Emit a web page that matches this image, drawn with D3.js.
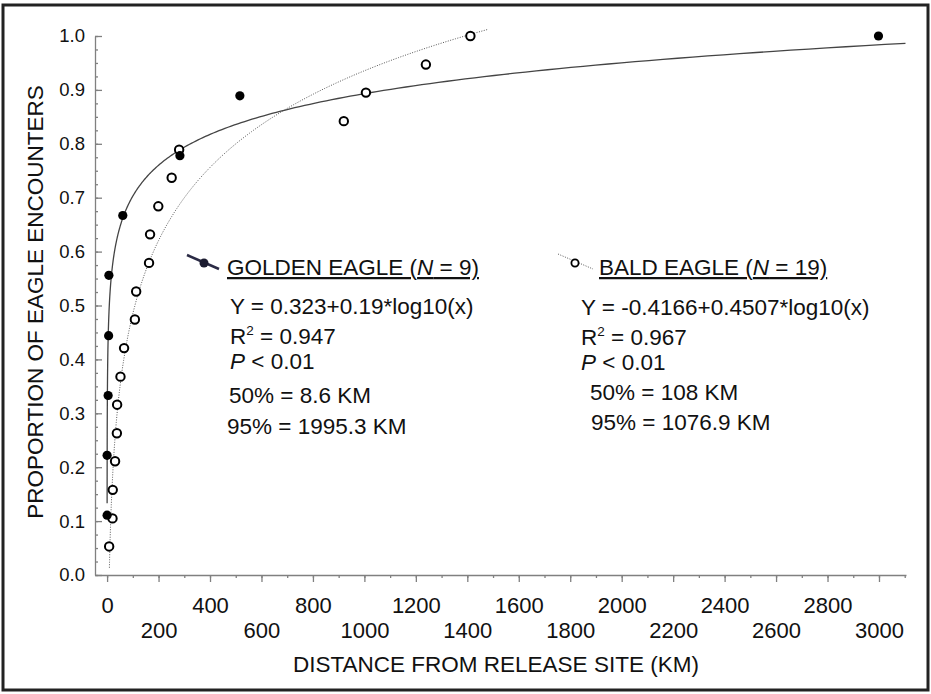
<!DOCTYPE html>
<html>
<head>
<meta charset="utf-8">
<script src="https://cdn.jsdelivr.net/npm/d3@7"></script>
<style>
  body { margin: 0; background: #fff; }
  text { font-family: "Liberation Sans", Arial, sans-serif; fill: #111; }
</style>
</head>
<body>
<div class="svg-container"></div>
<script>
// golden eagle (filled dots), N = 9
var goldenDist = [0, 0, 4, 6, 7, 61, 283, 516, 2998];
var goldenProp = [0.111, 0.222, 0.333, 0.444, 0.556, 0.667, 0.778, 0.889, 1.0];
// bald eagle (open circles), N = 19
var baldDist = [8, 21, 22, 31, 38, 39, 52, 66, 108, 113, 163, 167, 199, 251, 280, 920, 1006, 1239, 1412];
var baldProp = [0.053, 0.105, 0.158, 0.211, 0.263, 0.316, 0.368, 0.421, 0.474, 0.526, 0.579, 0.632, 0.684, 0.737, 0.789, 0.842, 0.895, 0.947, 1.0];
// fit lines: Y = a + b*log10(x)
var goldenFit = {a: 0.323, b: 0.19, from: 0.1, to: 3103};
var baldFit = {a: -0.4166, b: 0.4507, from: 9, to: 1480};
var xTicks = d3.range(0, 3001, 200);
var xMinor = d3.range(0, 3101, 100);
var yTicks = d3.range(0, 11).map(function(d){ return d / 10; });
var yMinor = d3.range(0, 41).map(function(d){ return d / 40; });

var svg1 = d3.select("body").select(".svg-container").append("svg")
    .attr("width", 931)
    .attr("height", 694);

// frame
svg1.append("rect")
    .attr("x", 3).attr("y", 5).attr("width", 925).attr("height", 685)
    .attr("fill", "none").attr("stroke", "#222").attr("stroke-width", 3);

var x = d3.scaleLinear().domain([-47, 3105]).range([95, 906]);
var y = d3.scaleLinear().domain([0, 1]).range([575, 36]);

// x axis
var xAxis = svg1.append("g").attr("transform", "translate(0,575)")
    .call(d3.axisBottom(x).tickValues(xTicks).tickSizeInner(7).tickSizeOuter(0)
        .tickFormat(d3.format("d")));
svg1.append("g").attr("transform", "translate(0,575)")
    .call(d3.axisBottom(x).tickValues(xMinor).tickSize(3).tickFormat(""))
    .select(".domain").remove();
xAxis.selectAll(".tick text")
    .attr("dy", null)
    .attr("y", function(d, i){ return i % 2 == 0 ? 37.5 : 63; })
    .attr("font-size", "22px")
    .attr("font-family", "Liberation Sans, Arial, sans-serif")
    .attr("fill", "#111");

// y axis, ticks point inward
var yAxis = svg1.append("g").attr("transform", "translate(95,0)")
    .call(d3.axisLeft(y).tickValues(yTicks).tickSizeInner(-7).tickSizeOuter(0).tickPadding(10)
        .tickFormat(d3.format(".1f")));
svg1.append("g").attr("transform", "translate(95,0)")
    .call(d3.axisLeft(y).tickValues(yMinor).tickSize(-3).tickFormat(""))
    .select(".domain").remove();
yAxis.selectAll(".tick text")
    .attr("font-size", "18.5px")
    .attr("font-family", "Liberation Sans, Arial, sans-serif")
    .attr("fill", "#111");

svg1.selectAll(".domain, .tick line").attr("stroke", "#808080").attr("stroke-width", 1.3);

// axis titles
svg1.append("text")
    .attr("x", 293).attr("y", 672)
    .attr("font-size", "22.5px")
    .text("DISTANCE FROM RELEASE SITE (KM)");
svg1.append("text")
    .attr("transform", "translate(43,302) rotate(-90)")
    .attr("text-anchor", "middle").attr("font-size", "22.5px")
    .text("PROPORTION OF EAGLE ENCOUNTERS");

// fit curves
function fitPoints(f) {
    var l0 = Math.log10(f.from), l1 = Math.log10(f.to);
    return d3.range(0, 401).map(function(i){
        var xv = Math.pow(10, l0 + (l1 - l0) * i / 400);
        return [xv, f.a + f.b * Math.log10(xv)];
    });
}
var line = d3.line().x(function(d){ return x(d[0]); }).y(function(d){ return y(d[1]); });

svg1.append("path")
    .attr("d", line(fitPoints(baldFit)))
    .attr("fill", "none").attr("stroke", "#555").attr("stroke-width", 1)
    .attr("stroke-dasharray", "1,1.5");
svg1.append("path")
    .attr("d", line(fitPoints(goldenFit)))
    .attr("fill", "none").attr("stroke", "#444").attr("stroke-width", 1.3);

// points
svg1.selectAll("circle.bald").data(baldDist)
    .enter().append("circle")
    .attr("class", "bald")
    .attr("cx", function(d){ return x(d); })
    .attr("cy", function(d, i){ return y(baldProp[i]); })
    .attr("r", 4.2)
    .attr("fill", "#fff").attr("stroke", "#000").attr("stroke-width", 2);

svg1.selectAll("circle.golden").data(goldenDist)
    .enter().append("circle")
    .attr("class", "golden")
    .attr("cx", function(d){ return x(d); })
    .attr("cy", function(d, i){ return y(goldenProp[i]); })
    .attr("r", 4.6)
    .attr("fill", "#000");

// legend - golden
svg1.append("line")
    .attr("x1", 187).attr("y1", 255).attr("x2", 219).attr("y2", 269)
    .attr("stroke", "#2b2b45").attr("stroke-width", 2.5);
svg1.append("circle")
    .attr("cx", 204).attr("cy", 263).attr("r", 4.5).attr("fill", "#1c1c30");

var fs = "22.5px";
var gl = svg1.append("text")
    .attr("x", 227).attr("y", 275).attr("font-size", fs)
    .attr("text-decoration", "underline");
gl.append("tspan").text("GOLDEN EAGLE (");
gl.append("tspan").attr("font-style", "italic").text("N");
gl.append("tspan").text(" = 9)");

svg1.append("text").attr("x", 230).attr("y", 314).attr("font-size", fs)
    .text("Y = 0.323+0.19*log10(x)");
var gr = svg1.append("text").attr("x", 230).attr("y", 344).attr("font-size", fs);
gr.append("tspan").text("R");
gr.append("tspan").attr("dy", -9).attr("font-size", "13.5px").text("2");
gr.append("tspan").attr("dy", 9).text(" = 0.947");
var gp = svg1.append("text").attr("x", 230).attr("y", 369).attr("font-size", fs);
gp.append("tspan").attr("font-style", "italic").text("P");
gp.append("tspan").text(" < 0.01");
svg1.append("text").attr("x", 229).attr("y", 403).attr("font-size", fs)
    .text("50% = 8.6 KM");
svg1.append("text").attr("x", 227).attr("y", 434).attr("font-size", fs)
    .text("95% = 1995.3 KM");

// legend - bald
svg1.append("line")
    .attr("x1", 558).attr("y1", 254).attr("x2", 593).attr("y2", 269)
    .attr("stroke", "#555").attr("stroke-width", 1).attr("stroke-dasharray", "1,1.5");
svg1.append("circle")
    .attr("cx", 575).attr("cy", 263).attr("r", 3.6)
    .attr("fill", "#fff").attr("stroke", "#000").attr("stroke-width", 1.8);

var bl = svg1.append("text")
    .attr("x", 599).attr("y", 275).attr("font-size", fs)
    .attr("text-decoration", "underline");
bl.append("tspan").text("BALD EAGLE (");
bl.append("tspan").attr("font-style", "italic").text("N");
bl.append("tspan").text(" = 19)");

svg1.append("text").attr("x", 581).attr("y", 315).attr("font-size", fs)
    .text("Y = -0.4166+0.4507*log10(x)");
var br = svg1.append("text").attr("x", 581).attr("y", 345).attr("font-size", fs);
br.append("tspan").text("R");
br.append("tspan").attr("dy", -9).attr("font-size", "13.5px").text("2");
br.append("tspan").attr("dy", 9).text(" = 0.967");
var bp = svg1.append("text").attr("x", 581).attr("y", 370).attr("font-size", fs);
bp.append("tspan").attr("font-style", "italic").text("P");
bp.append("tspan").text(" < 0.01");
svg1.append("text").attr("x", 590).attr("y", 400).attr("font-size", fs)
    .text("50% = 108 KM");
svg1.append("text").attr("x", 591).attr("y", 430).attr("font-size", fs)
    .text("95% = 1076.9 KM");
</script>
</body>
</html>
